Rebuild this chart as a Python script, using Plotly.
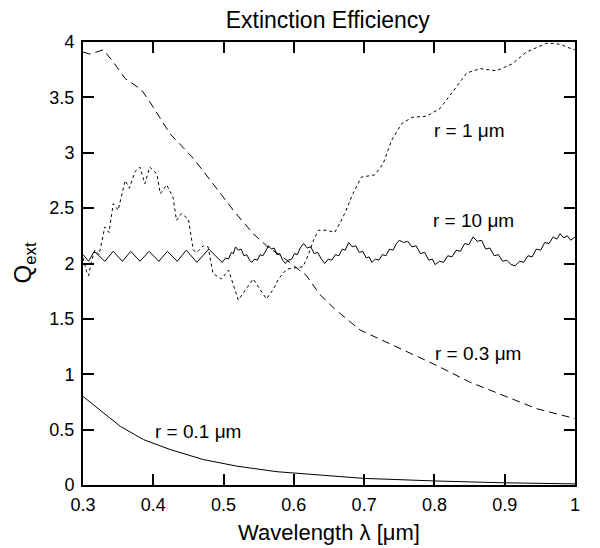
import plotly.graph_objects as go

# r = 0.1 um
lam_01 = [0.300, 0.324, 0.353, 0.386, 0.424, 0.471, 0.519, 0.576, 0.651, 0.699, 0.803, 0.898, 1.000]
q_01 = [0.80, 0.68, 0.53, 0.41, 0.32, 0.23, 0.17, 0.12, 0.08, 0.06, 0.036, 0.02, 0.01]

# r = 0.3 um
lam_03 = [0.300, 0.310, 0.329, 0.343, 0.360, 0.383, 0.395, 0.424, 0.457, 0.485, 0.514,
          0.542, 0.561, 0.590, 0.618, 0.637, 0.658, 0.694, 0.732, 0.775, 0.803, 0.850,
          0.898, 0.945, 1.000]
q_03 = [3.91, 3.89, 3.93, 3.82, 3.67, 3.57, 3.46, 3.17, 2.95, 2.72, 2.48,
        2.27, 2.16, 2.03, 1.89, 1.72, 1.59, 1.40, 1.29, 1.16, 1.08, 0.93,
        0.81, 0.69, 0.60]

# r = 1 um
lam_1 = [0.300, 0.305, 0.308, 0.312, 0.317, 0.323, 0.331, 0.337, 0.343, 0.350, 0.360,
         0.366, 0.374, 0.381, 0.388, 0.395, 0.405, 0.410, 0.419, 0.428, 0.433, 0.440,
         0.450, 0.457, 0.462, 0.471, 0.478, 0.485, 0.497, 0.507, 0.521, 0.542, 0.561,
         0.571, 0.578, 0.590, 0.613, 0.620, 0.628, 0.635, 0.647, 0.658, 0.666, 0.673,
         0.684, 0.696, 0.715, 0.727, 0.739, 0.753, 0.768, 0.789, 0.808, 0.827, 0.846,
         0.865, 0.888, 0.910, 0.931, 0.960, 0.979, 0.990, 1.000]
q_1 = [2.05, 1.93, 1.89, 2.02, 2.12, 2.08, 2.33, 2.28, 2.54, 2.48, 2.75,
       2.68, 2.83, 2.87, 2.72, 2.87, 2.81, 2.63, 2.71, 2.60, 2.39, 2.45,
       2.40, 2.12, 2.10, 2.16, 2.15, 1.91, 1.86, 1.94, 1.67, 1.86, 1.68,
       1.77, 1.86, 1.95, 1.97, 2.07, 2.21, 2.30, 2.30, 2.28, 2.37, 2.46,
       2.63, 2.78, 2.80, 2.90, 3.11, 3.26, 3.32, 3.33, 3.40, 3.56, 3.72,
       3.76, 3.74, 3.80, 3.91, 3.99, 3.98, 3.95, 3.93]

# r = 10 um
lam_10 = [0.300, 0.308, 0.316, 0.331, 0.343, 0.356, 0.368, 0.381, 0.394, 0.408, 0.420,
          0.434, 0.447, 0.462, 0.479, 0.498,
          0.503, 0.507, 0.511, 0.514, 0.517, 0.521, 0.525, 0.529, 0.533, 0.537, 0.540,
          0.544, 0.548, 0.552, 0.556, 0.560, 0.564, 0.568, 0.572, 0.576, 0.580, 0.584,
          0.588, 0.592, 0.597, 0.601, 0.605, 0.609, 0.614, 0.619, 0.624, 0.629, 0.634,
          0.639, 0.644, 0.649, 0.654, 0.659, 0.664, 0.669, 0.673, 0.678, 0.683, 0.688,
          0.693, 0.698, 0.703, 0.707, 0.711, 0.716, 0.721, 0.726, 0.731, 0.736, 0.741,
          0.746, 0.750, 0.756, 0.762, 0.768, 0.774, 0.780, 0.786, 0.792, 0.797, 0.801,
          0.807, 0.813, 0.819, 0.825, 0.831, 0.837, 0.843, 0.849, 0.855, 0.861, 0.867,
          0.873, 0.879, 0.885, 0.891, 0.897, 0.903, 0.909, 0.915, 0.921, 0.927, 0.933,
          0.939, 0.945, 0.951, 0.957, 0.963, 0.969, 0.974, 0.979, 0.984, 0.989, 0.994,
          1.000]
q_10 = [2.08, 2.02, 2.11, 2.02, 2.11, 2.02, 2.11, 2.02, 2.11, 2.02, 2.11,
        2.02, 2.12, 2.01, 2.13, 2.01,
        2.05, 2.04, 2.10, 2.09, 2.15, 2.12, 2.13, 2.07, 2.08, 2.03, 2.01,
        2.04, 2.03, 2.08, 2.07, 2.12, 2.16, 2.13, 2.14, 2.08, 2.09, 2.03,
        2.00, 2.03, 2.04, 2.09, 2.08, 2.14, 2.18, 2.14, 2.15, 2.09, 2.10,
        2.04, 2.00, 2.04, 2.03, 2.08, 2.07, 2.13, 2.12, 2.19, 2.15, 2.16,
        2.10, 2.11, 2.05, 2.06, 2.01, 2.04, 2.03, 2.08, 2.07, 2.13, 2.12,
        2.18, 2.21, 2.19, 2.20, 2.15, 2.16, 2.09, 2.10, 2.03, 2.04, 1.99,
        2.02, 2.01, 2.07, 2.06, 2.12, 2.11, 2.18, 2.17, 2.24, 2.20, 2.21,
        2.13, 2.14, 2.07, 2.08, 2.02, 2.03, 1.99, 1.98, 2.02, 2.01, 2.07,
        2.06, 2.13, 2.12, 2.19, 2.18, 2.24, 2.22, 2.27, 2.23, 2.25, 2.21,
        2.24]

labels = ["r = 0.1 μm", "r = 0.3 μm", "r = 1 μm", "r = 10 μm"]
label_x = [0.464, 0.862, 0.850, 0.856]
label_y = [0.48, 1.19, 3.20, 2.39]

font = "Liberation Sans, Arial, Helvetica, sans-serif"

fig = go.Figure()
fig.add_trace(go.Scatter(x=lam_01, y=q_01, mode="lines", line=dict(color="black", width=1), name=labels[0]))
fig.add_trace(go.Scatter(x=lam_03, y=q_03, mode="lines", line=dict(color="black", width=1, dash="8px,5px"), name=labels[1]))
fig.add_trace(go.Scatter(x=lam_1, y=q_1, mode="lines", line=dict(color="black", width=1, dash="3px,3px"), name=labels[2]))
fig.add_trace(go.Scatter(x=lam_10, y=q_10, mode="lines", line=dict(color="black", width=1), name=labels[3]))

for txt, lx, ly in zip(labels, label_x, label_y):
    fig.add_annotation(x=lx, y=ly, text=txt, showarrow=False, font=dict(size=19, color="black"))

# y-axis title as a rotated annotation so it can sit close to the page edge
fig.add_annotation(x=0, y=0.5, xref="paper", yref="paper", text="Q<sub>ext</sub>",
                   textangle=-90, showarrow=False, xanchor="center", yanchor="middle",
                   xshift=-59, font=dict(size=24, color="black"))

axis_style = dict(showline=True, linecolor="black", linewidth=2, mirror="ticks",
                  ticks="inside", ticklen=11, tickwidth=2, tickcolor="black",
                  showgrid=False, zeroline=False, automargin=False,
                  tickfont=dict(size=18, color="black"))

fig.update_xaxes(range=[0.3, 1.0], dtick=0.1, tickangle=0, ticklabelstandoff=2,
                 title=dict(text="Wavelength λ [μm]", font=dict(size=22, color="black"), standoff=11),
                 **axis_style)
fig.update_yaxes(range=[0, 4], dtick=0.5, ticklabelstandoff=3, **axis_style)

# the page body adds an 8px offset, so the margins are shifted to compensate
fig.update_layout(
    width=600, height=548,
    margin=dict(l=75, r=33, t=34, b=71),
    plot_bgcolor="white", paper_bgcolor="white",
    font=dict(family=font, color="black"),
    showlegend=False,
    title=dict(text="Extinction Efficiency", x=0.533, xanchor="center", y=1, yanchor="top",
               pad=dict(t=4), font=dict(size=23, color="black")),
)

fig.write_html("out.html")
